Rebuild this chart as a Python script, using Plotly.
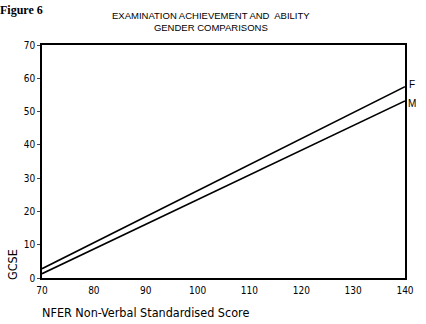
import plotly.graph_objects as go

nfer_scores = [70, 140]
gcse_female = [2.8, 57.5]
gcse_male = [1.3, 53.2]
x_ticks = [70, 80, 90, 100, 110, 120, 130, 140]
y_ticks = [0, 10, 20, 30, 40, 50, 60, 70]

fig = go.Figure()
fig.add_trace(go.Scatter(x=nfer_scores, y=gcse_female, mode="lines",
                         line=dict(color="black", width=1.6), name="F"))
fig.add_trace(go.Scatter(x=nfer_scores, y=gcse_male, mode="lines",
                         line=dict(color="black", width=1.6), name="M"))

fig.add_annotation(x=140, y=gcse_female[-1], text="F", showarrow=False,
                   xanchor="left", yanchor="middle", xshift=2, yshift=2,
                   font=dict(family="Liberation Sans", size=10, color="black"))
fig.add_annotation(x=140, y=gcse_male[-1], text="M", showarrow=False,
                   xanchor="left", yanchor="middle", xshift=1, yshift=-3,
                   font=dict(family="Liberation Sans", size=10, color="black"))

fig.add_annotation(xref="paper", yref="paper", x=0.465, y=1, xanchor="center",
                   yanchor="bottom", yshift=10, showarrow=False,
                   text="EXAMINATION ACHIEVEMENT AND  ABILITY<br>GENDER COMPARISONS",
                   font=dict(family="Liberation Sans", size=9.5, color="black"))
fig.add_annotation(xref="paper", yref="paper", x=0, y=1, xanchor="left",
                   yanchor="bottom", xshift=-44, yshift=26, showarrow=False,
                   text="<b>Figure 6</b>",
                   font=dict(family="Liberation Serif", size=12, color="black"))

fig.add_annotation(xref="paper", yref="paper", x=0, y=0, xanchor="left",
                   yanchor="middle", yshift=-34, xshift=-2, showarrow=False,
                   text="NFER Non-Verbal Standardised Score",
                   font=dict(family="DejaVu Sans Condensed", size=12.5, color="black"))
fig.add_annotation(xref="paper", yref="paper", x=0, y=0, xanchor="center",
                   yanchor="middle", xshift=-30, yshift=13, showarrow=False,
                   text="GCSE", textangle=-90,
                   font=dict(family="DejaVu Sans Condensed", size=12.5, color="black"))

fig.update_layout(
    width=426, height=324,
    margin=dict(l=42, r=13, t=45, b=46),
    paper_bgcolor="white", plot_bgcolor="white",
    showlegend=False,
    xaxis=dict(range=[70, 140], tickvals=x_ticks, ticks="", ticklabelstandoff=2,
               showline=True, linecolor="black", linewidth=1.5, mirror=True,
               showgrid=False, zeroline=False,
               tickfont=dict(family="DejaVu Sans Condensed", size=10, color="black")),
    yaxis=dict(range=[0, 70], tickvals=y_ticks, ticks="outside", ticklen=3,
               showline=True, linecolor="black", linewidth=1.5, mirror=True,
               showgrid=False, zeroline=False,
               tickfont=dict(family="DejaVu Sans Condensed", size=10, color="black")),
)

fig.write_html("out.html")
